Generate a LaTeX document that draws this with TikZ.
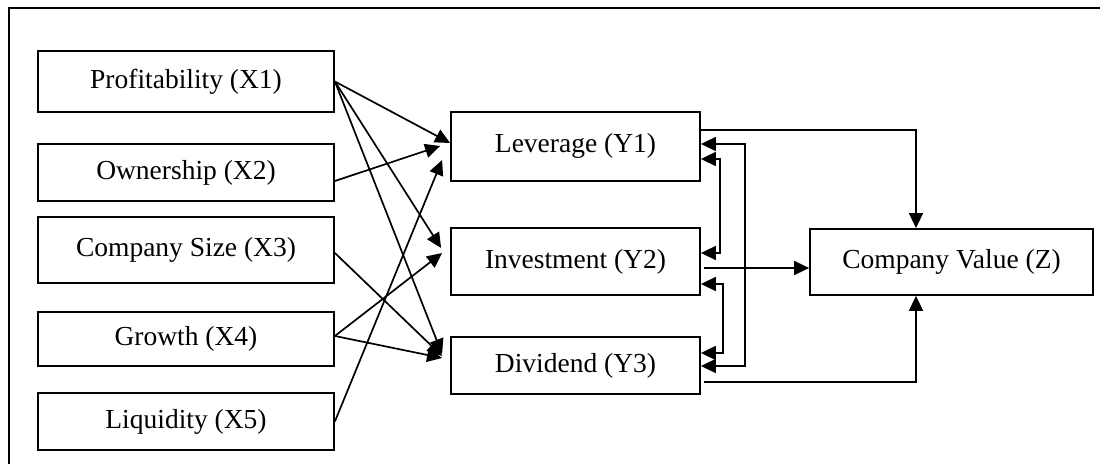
\documentclass[tikz,border=0pt]{standalone}
\usepackage{fontspec}
\setmainfont{Liberation Serif}
\usetikzlibrary{arrows.meta,calc}
\begin{document}
\begin{tikzpicture}[x=0.5pt,y=-0.5pt,
  box/.style={draw, line width=0.9pt, inner sep=0pt, align=center,
    font=\fontsize{13.75pt}{16pt}\selectfont},
  link/.style={line width=0.85pt, -{Triangle[length=7.5pt,width=7pt]}},
  both/.style={line width=0.85pt, {Triangle[length=7.5pt,width=7pt]}-{Triangle[length=7.5pt,width=7pt]}},
  frame/.style={line width=0.9pt}]
\useasboundingbox (0,0) rectangle (1100,464);

% outer frame (top and left sides)
\coordinate (fbl) at (9,464);
\coordinate (ftl) at (9,8);
\coordinate (ftr) at (1100,8);
\draw[frame] (fbl) -- (ftl) -- (ftr);

% exogenous variables
\node[box, minimum width=148pt, minimum height=30.5pt] (x1) at (186,81.5) {Profitability (X1)};
\node[box, minimum width=148pt, minimum height=28.5pt] (x2) at (186,172.5) {Ownership (X2)};
\node[box, minimum width=148pt, minimum height=33pt]   (x3) at (186,250) {\raisebox{2.5pt}{Company Size (X3)}};
\node[box, minimum width=148pt, minimum height=27pt]   (x4) at (186,339) {Growth (X4)};
\node[box, minimum width=148pt, minimum height=28.5pt] (x5) at (186,421.5) {Liquidity (X5)};

% intervening variables
\node[box, minimum width=124.5pt, minimum height=34.5pt] (y1) at (575.5,146.5) {\raisebox{3.5pt}{Leverage (Y1)}};
\node[box, minimum width=124.5pt, minimum height=33.5pt] (y2) at (575.5,261.5) {\raisebox{3pt}{Investment (Y2)}};
\node[box, minimum width=124.5pt, minimum height=28.5pt] (y3) at (575.5,365.5) {\raisebox{1pt}{Dividend (Y3)}};

% dependent variable
\node[box, minimum width=141.5pt, minimum height=33pt] (z) at (951.5,262) {\raisebox{3.5pt}{Company Value (Z)}};

% paths from X to Y
\draw[link] (x1.east) -- ($(y1.west)+(0,-3.5)$);
\draw[link] (x1.east) -- ($(y2.west)+(-9,-13.5)$);
\draw[link] (x1.east) -- ($(y3.west)+(-8,-11.5)$);
\draw[link] ($(x2.east)+(0,8.5)$) -- ($(y1.west)+(-10,-0.5)$);
\draw[link] ($(x3.east)+(0,3)$) -- ($(y3.west)+(-8,-9.5)$);
\draw[link] ($(x4.east)+(0,-3)$) -- ($(y2.west)+(-8,-8.5)$);
\draw[link] ($(x4.east)+(0,-3)$) -- ($(y3.west)+(-8,-7.5)$);
\draw[link] (x5.east) -- ($(y1.west)+(-8,13.5)$);

% reciprocal links between the Y variables
\draw[both] ($(y1.east)+(0,-2.5)$) -- ++(44,0) |- ($(y3.east)+(0,0.5)$);
\draw[both] ($(y1.east)+(0,12.5)$) -- ++(19,0) |- ($(y2.east)+(0,-8.5)$);
\draw[both] ($(y2.east)+(0,22.5)$) -- ++(22,0) |- ($(y3.east)+(0,-12.5)$);

% paths from Y to Z
\draw[link] ($(y1.east)+(0,-16.5)$) -| ($(z.north)+(-35.5,0)$);
\draw[link] ($(y2.east)+(3,6.5)$) -- ($(z.west)+(0,6)$);
\draw[link] ($(y3.east)+(3,16.5)$) -| ($(z.south)+(-35.5,0)$);
\end{tikzpicture}
\end{document}
